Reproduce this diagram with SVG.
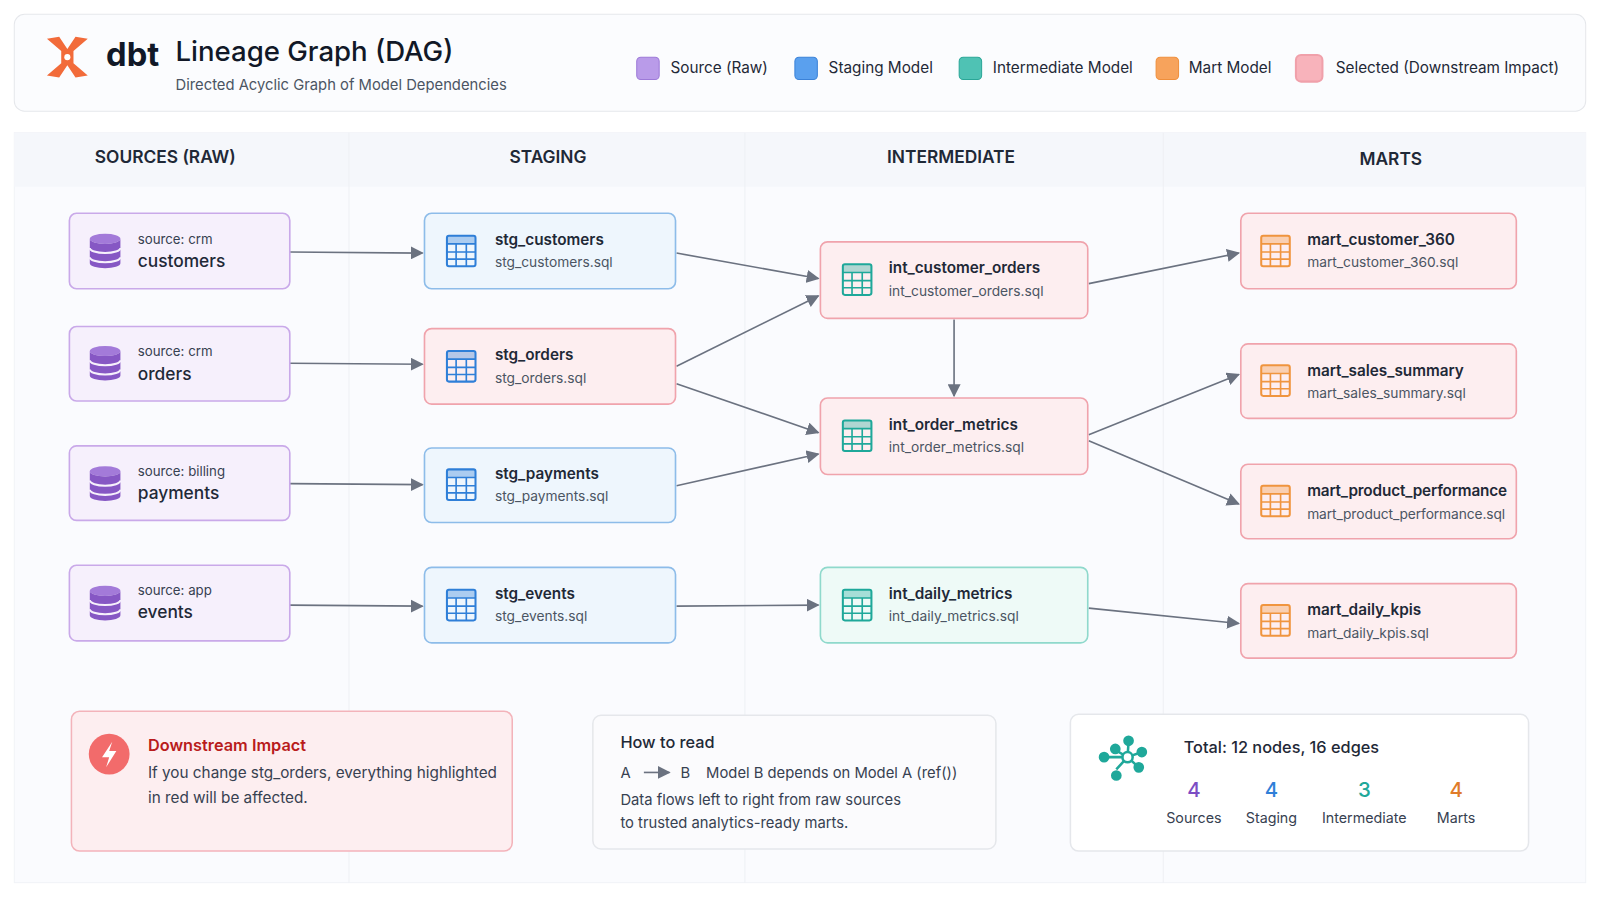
<svg xmlns="http://www.w3.org/2000/svg" width="1600" height="900" viewBox="0 0 1600 900">
<defs>
<style>
text{font-family:"Inter","Noto Sans","Liberation Sans",sans-serif;fill:#1f2937}
.n{stroke-width:1.6}
.src{fill:#f6f0fc;stroke:#c9a9e9}
.stg{fill:#eef6fd;stroke:#8dbce9}
.sel{fill:#fdeef0;stroke:#f0a3ac}
.int{fill:#eefaf7;stroke:#8fd9cc}
.t1{font-size:15px;font-weight:600}
.t2{font-size:13.5px;fill:#4b5563}
.s1{font-size:13px;fill:#374151}
.s2{font-size:17px;font-weight:500}
.col{font-size:17px;font-weight:600;text-anchor:middle}
.lg{font-size:15px}
.e{stroke:#6b7280;stroke-width:1.6;fill:none;marker-end:url(#ar)}
</style>
<marker id="ar" viewBox="0 0 10 10" refX="9" refY="5" markerWidth="8" markerHeight="8" orient="auto"><path d="M0,0L10,5L0,10z" fill="#6b7280"/></marker>
<g id="db"><ellipse cx="0" cy="-12" rx="15" ry="5" fill="#a37ad9"/><path d="M-15,-12v24a15,5 0 0 0 30,0v-24a15,5 0 0 1 -30,0z" fill="#8657c4"/><path d="M-15,-3a15,5 0 0 0 30,0M-15,6a15,5 0 0 0 30,0" stroke="#f6f0fc" stroke-width="2" fill="none"/></g>
<g id="tb"><rect x="-14" y="-15" width="28" height="30" rx="2" fill="none" stroke-width="2"/><path d="M-14,-7h28M-14,1h28M-14,8h28M-5,-7v22M5,-7v22" stroke-width="1.6"/><rect x="-14" y="-15" width="28" height="8" stroke="none" opacity="0.35"/></g>
</defs>
<rect width="1600" height="900" fill="#ffffff"/>
<g transform="scale(1.0204)">
<g id="header">
<rect x="14" y="14" width="1540" height="95" rx="10" fill="#fbfcfe" stroke="#e5e7eb"/>
<g transform="translate(66,56)" fill="#f26b3a"><path d="M-20,-18 L-6,-6 L-6,6 L-20,18 L-8,20 L0,8 L8,20 L20,18 L6,6 L6,-6 L20,-18 L8,-20 L0,-8 L-8,-20z"/><circle cx="0" cy="0" r="3" fill="#fff"/></g>
<text x="104" y="65" font-size="32" font-weight="700" style="fill:#111827">dbt</text>
<text x="172" y="60" font-size="27" font-weight="500" style="fill:#111827">Lineage Graph (DAG)</text>
<text x="172" y="88" font-size="14.5" style="fill:#4b5563">Directed Acyclic Graph of Model Dependencies</text>
<rect x="624" y="56" width="22" height="22" rx="4" fill="#b99be9" stroke="#9d7ad8"/><text x="657" y="72" class="lg">Source (Raw)</text>
<rect x="779" y="56" width="22" height="22" rx="4" fill="#5aa0ee" stroke="#3b82d8"/><text x="812" y="72" class="lg">Staging Model</text>
<rect x="940" y="56" width="22" height="22" rx="4" fill="#4fc2b4" stroke="#2aa697"/><text x="973" y="72" class="lg">Intermediate Model</text>
<rect x="1133" y="56" width="22" height="22" rx="4" fill="#f7a35c" stroke="#ef8f3c"/><text x="1165" y="72" class="lg">Mart Model</text>
<rect x="1270" y="54" width="26" height="26" rx="5" fill="#f8b3bb" stroke="#f0a0aa" stroke-width="2"/><text x="1309" y="72" class="lg">Selected (Downstream Impact)</text>
</g>
<g id="columns">
<rect x="14" y="130" width="1540" height="735" fill="#fafbfe" stroke="#f1f3f7"/>
<rect x="14" y="130" width="1540" height="53" fill="#f5f7fb"/>
<path d="M342,130V865M730,130V865M1140,130V865" stroke="#eef0f4"/>
<text x="162" y="160" class="col">SOURCES (RAW)</text>
<text x="537" y="160" class="col">STAGING</text>
<text x="932" y="160" class="col">INTERMEDIATE</text>
<text x="1363" y="162" class="col">MARTS</text>
</g>
<g id="edges">
<path class="e" d="M284,247L414,248"/>
<path class="e" d="M284,356L414,357"/>
<path class="e" d="M284,474L414,475"/>
<path class="e" d="M284,593L414,594"/>
<path class="e" d="M663,248L802,273"/>
<path class="e" d="M663,359L802,290"/>
<path class="e" d="M663,376L802,424"/>
<path class="e" d="M663,476L802,445"/>
<path class="e" d="M935,313L935,388"/>
<path class="e" d="M663,594L802,593"/>
<path class="e" d="M1067,278L1214,248"/>
<path class="e" d="M1067,426L1214,367"/>
<path class="e" d="M1067,432L1214,494"/>
<path class="e" d="M1067,596L1214,611"/>
</g>
<g id="src_customers"><rect class="n src" x="68" y="209" width="216" height="74" rx="7"/><use href="#db" x="103" y="246"/><text x="135" y="239" class="s1">source: crm</text><text x="135" y="262" class="s2">customers</text></g>
<g id="src_orders"><rect class="n src" x="68" y="320" width="216" height="73" rx="7"/><use href="#db" x="103" y="356"/><text x="135" y="349" class="s1">source: crm</text><text x="135" y="372" class="s2">orders</text></g>
<g id="src_payments"><rect class="n src" x="68" y="437" width="216" height="73" rx="7"/><use href="#db" x="103" y="474"/><text x="135" y="466" class="s1">source: billing</text><text x="135" y="489" class="s2">payments</text></g>
<g id="src_events"><rect class="n src" x="68" y="554" width="216" height="74" rx="7"/><use href="#db" x="103" y="591"/><text x="135" y="583" class="s1">source: app</text><text x="135" y="606" class="s2">events</text></g>
<g id="stg_customers"><rect class="n stg" x="416" y="209" width="246" height="74" rx="7"/><use href="#tb" x="452" y="246" fill="#2f7fd8" stroke="#2f7fd8"/><text x="485" y="240" class="t1">stg_customers</text><text x="485" y="262" class="t2">stg_customers.sql</text></g>
<g id="stg_orders"><rect class="n sel" x="416" y="322" width="246" height="74" rx="7"/><use href="#tb" x="452" y="359" fill="#2f7fd8" stroke="#2f7fd8"/><text x="485" y="353" class="t1">stg_orders</text><text x="485" y="375" class="t2">stg_orders.sql</text></g>
<g id="stg_payments"><rect class="n stg" x="416" y="439" width="246" height="73" rx="7"/><use href="#tb" x="452" y="475" fill="#2f7fd8" stroke="#2f7fd8"/><text x="485" y="469" class="t1">stg_payments</text><text x="485" y="491" class="t2">stg_payments.sql</text></g>
<g id="stg_events"><rect class="n stg" x="416" y="556" width="246" height="74" rx="7"/><use href="#tb" x="452" y="593" fill="#2f7fd8" stroke="#2f7fd8"/><text x="485" y="587" class="t1">stg_events</text><text x="485" y="609" class="t2">stg_events.sql</text></g>
<g id="int_customer_orders"><rect class="n sel" x="804" y="237" width="262" height="75" rx="7"/><use href="#tb" x="840" y="274" fill="#1fa89a" stroke="#1fa89a"/><text x="871" y="268" class="t1">int_customer_orders</text><text x="871" y="290" class="t2">int_customer_orders.sql</text></g>
<g id="int_order_metrics"><rect class="n sel" x="804" y="390" width="262" height="75" rx="7"/><use href="#tb" x="840" y="427" fill="#1fa89a" stroke="#1fa89a"/><text x="871" y="421" class="t1">int_order_metrics</text><text x="871" y="443" class="t2">int_order_metrics.sql</text></g>
<g id="int_daily_metrics"><rect class="n int" x="804" y="556" width="262" height="74" rx="7"/><use href="#tb" x="840" y="593" fill="#1fa89a" stroke="#1fa89a"/><text x="871" y="587" class="t1">int_daily_metrics</text><text x="871" y="609" class="t2">int_daily_metrics.sql</text></g>
<g id="mart_customer_360"><rect class="n sel" x="1216" y="209" width="270" height="74" rx="7"/><use href="#tb" x="1250" y="246" fill="#f0953f" stroke="#f0953f"/><text x="1281" y="240" class="t1">mart_customer_360</text><text x="1281" y="262" class="t2">mart_customer_360.sql</text></g>
<g id="mart_sales_summary"><rect class="n sel" x="1216" y="337" width="270" height="73" rx="7"/><use href="#tb" x="1250" y="373" fill="#f0953f" stroke="#f0953f"/><text x="1281" y="368" class="t1">mart_sales_summary</text><text x="1281" y="390" class="t2">mart_sales_summary.sql</text></g>
<g id="mart_product_performance"><rect class="n sel" x="1216" y="455" width="270" height="73" rx="7"/><use href="#tb" x="1250" y="491" fill="#f0953f" stroke="#f0953f"/><text x="1281" y="486" class="t1" textLength="196">mart_product_performance</text><text x="1281" y="509" class="t2" textLength="194">mart_product_performance.sql</text></g>
<g id="mart_daily_kpis"><rect class="n sel" x="1216" y="572" width="270" height="73" rx="7"/><use href="#tb" x="1250" y="608" fill="#f0953f" stroke="#f0953f"/><text x="1281" y="603" class="t1">mart_daily_kpis</text><text x="1281" y="625" class="t2">mart_daily_kpis.sql</text></g>
<g id="impact">
<rect x="70" y="697" width="432" height="137" rx="8" fill="#fdeef0" stroke="#f3b3ba" stroke-width="1.5"/>
<circle cx="107" cy="739" r="20" fill="#f26b6b"/><path d="M110,727L100,742H107L104,752L114,736H107z" fill="#fff"/>
<text x="145" y="736" font-size="16" font-weight="600" style="fill:#b91c1c">Downstream Impact</text>
<text x="145" y="762" font-size="15" style="fill:#374151">If you change stg_orders, everything highlighted</text>
<text x="145" y="787" font-size="15" style="fill:#374151">in red will be affected.</text>
</g>
<g id="howto">
<rect x="581" y="701" width="395" height="131" rx="8" fill="#fbfbfd" stroke="#e5e7eb" stroke-width="1.5"/>
<text x="608" y="733" font-size="16" font-weight="500">How to read</text>
<text x="608" y="762" font-size="14.5" style="fill:#374151">A</text>
<path class="e" d="M631,757H656"/>
<text x="667" y="762" font-size="14.5" style="fill:#374151">B</text>
<text x="692" y="762" font-size="14.5" style="fill:#374151">Model B depends on Model A (ref())</text>
<text x="608" y="789" font-size="14.5" style="fill:#374151">Data flows left to right from raw sources</text>
<text x="608" y="811" font-size="14.5" style="fill:#374151">to trusted analytics-ready marts.</text>
</g>
<g id="stats">
<rect x="1049" y="700" width="449" height="134" rx="8" fill="#ffffff" stroke="#e5e7eb" stroke-width="1.5"/>
<g stroke="#1fa89a" stroke-width="2.5" fill="#1fa89a"><path d="M1105,742L1106,727M1105,742L1093,735M1105,742L1082,742M1105,742L1094,754M1105,742L1119,737M1105,742L1116,752"/><circle cx="1106" cy="726" r="4"/><circle cx="1093" cy="734" r="4"/><circle cx="1082" cy="742" r="4"/><circle cx="1119" cy="737" r="4"/><circle cx="1116" cy="752" r="4"/><circle cx="1094" cy="760" r="4"/><circle cx="1105" cy="742" r="5" fill="#fff"/></g>
<text x="1160" y="738" font-size="16" font-weight="500">Total: 12 nodes, 16 edges</text>
<g text-anchor="middle"><text x="1170" y="781" font-size="20" font-weight="500" style="fill:#7c4dc4">4</text><text x="1246" y="781" font-size="20" font-weight="500" style="fill:#2f7fd8">4</text><text x="1337" y="781" font-size="20" font-weight="500" style="fill:#1fa89a">3</text><text x="1427" y="781" font-size="20" font-weight="500" style="fill:#e07b2a">4</text>
<text x="1170" y="807" font-size="14" style="fill:#374151">Sources</text><text x="1246" y="807" font-size="14" style="fill:#374151">Staging</text><text x="1337" y="807" font-size="14" style="fill:#374151">Intermediate</text><text x="1427" y="807" font-size="14" style="fill:#374151">Marts</text></g>
</g>
</g>
</svg>
